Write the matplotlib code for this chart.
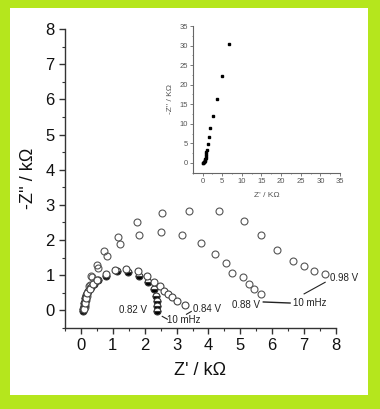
import numpy as np
import matplotlib
matplotlib.use("Agg")
import matplotlib.pyplot as plt
from matplotlib.patches import Rectangle
from matplotlib.ticker import MultipleLocator

plt.rcParams['font.family'] = ['Liberation Sans', 'DejaVu Sans']

# Nyquist data (kOhm)
x_082 = [0.07, 0.08, 0.09, 0.10, 0.12, 0.14, 0.17, 0.22, 0.30, 0.40, 0.55, 0.79,
         1.12, 1.49, 1.81, 2.10, 2.28, 2.36, 2.38, 2.38, 2.38]
y_082 = [-0.03, 0.05, 0.12, 0.20, 0.28, 0.36, 0.45, 0.55, 0.66, 0.75, 0.86, 0.99,
         1.11, 1.09, 0.98, 0.82, 0.62, 0.42, 0.26, 0.12, -0.03]

x_084 = [0.10, 0.12, 0.15, 0.20, 0.27, 0.37, 0.50, 0.78, 1.07, 1.42, 1.78, 2.07,
         2.29, 2.47, 2.60, 2.73, 2.87, 3.02, 3.25]
y_084 = [0.05, 0.20, 0.35, 0.50, 0.62, 0.74, 0.87, 1.04, 1.16, 1.18, 1.11, 0.97,
         0.82, 0.68, 0.54, 0.46, 0.37, 0.26, 0.14]

x_088 = [0.12, 0.15, 0.20, 0.27, 0.36, 0.52, 0.82, 1.24, 1.81, 2.51, 3.18, 3.75,
         4.22, 4.54, 4.75, 5.08, 5.26, 5.43, 5.64]
y_088 = [0.10, 0.30, 0.50, 0.72, 0.95, 1.20, 1.55, 1.89, 2.14, 2.24, 2.14, 1.91,
         1.60, 1.34, 1.06, 0.94, 0.76, 0.61, 0.47]

x_098 = [0.13, 0.18, 0.25, 0.33, 0.49, 0.73, 1.15, 1.75, 2.53, 3.39, 4.34, 5.10,
         5.66, 6.15, 6.65, 7.00, 7.31, 7.64]
y_098 = [0.15, 0.40, 0.68, 0.98, 1.30, 1.68, 2.10, 2.51, 2.78, 2.84, 2.82, 2.55,
         2.15, 1.72, 1.41, 1.25, 1.13, 1.04]

# inset data
x_ins = [0.10, 0.15, 0.25, 0.35, 0.45, 0.55, 0.65, 0.75, 0.80, 0.85, 0.90, 0.93,
         1.10, 1.35, 1.60, 1.95, 2.60, 3.65, 4.90, 6.80]
y_ins = [0.05, 0.10, 0.15, 0.20, 0.30, 0.45, 0.70, 1.00, 1.30, 1.70, 2.20, 2.70,
         3.40, 4.80, 6.60, 8.90, 12.0, 16.4, 22.3, 30.5]

green = '#b5e61d'
dark = '#222222'

fig = plt.figure(figsize=(3.8, 4.09), dpi=100, facecolor=green)
fig.patches.append(Rectangle((10/380, 14/409), 358/380, 387/409,
                             transform=fig.transFigure, facecolor='white',
                             edgecolor='none', zorder=-10))

ax = fig.add_axes([65/380, 1 - 328/409, 271/380, 299/409])
ax.patch.set_alpha(0)

ms = 5
ax.plot(x_082, y_082, 'o', ms=ms, mfc='black', mfcalt='white', fillstyle='bottom',
        mec='#333333', mew=0.8, linestyle='None', zorder=3)
ax.plot(x_084, y_084, 'o', ms=ms, mfc='white', mec='#444444', mew=0.8,
        linestyle='None', zorder=4)
ax.plot(x_088, y_088, 'o', ms=ms, mfc='none', mec='#555555', mew=0.8,
        linestyle='None', zorder=2)
ax.plot(x_098, y_098, 'o', ms=ms, mfc='none', mec='#555555', mew=0.8,
        linestyle='None', zorder=2)

# annotations
fs_ann = 7
ax.text(1.63, 0.02, '0.82 V', fontsize=fs_ann, ha='center', va='center', color=dark)
ax.text(3.96, 0.05, '0.84 V', fontsize=fs_ann, ha='center', va='center', color=dark)
ax.text(3.23, -0.28, '10 mHz', fontsize=fs_ann, ha='center', va='center', color=dark)
ax.plot([2.55, 2.71], [-0.17, -0.25], color=dark, lw=0.8, clip_on=False)
ax.plot([3.31, 3.46], [-0.11, -0.03], color=dark, lw=0.8, clip_on=False)
ax.text(5.18, 0.16, '0.88 V', fontsize=fs_ann, ha='center', va='center', color=dark)
ax.plot([5.72, 6.56], [0.24, 0.21], color=dark, lw=1.0)
ax.text(7.19, 0.21, '10 mHz', fontsize=fs_ann, ha='center', va='center', color=dark)
ax.plot([7.0, 7.66], [0.47, 0.80], color=dark, lw=0.8, clip_on=False)
ax.text(8.24, 0.92, '0.98 V', fontsize=fs_ann, ha='center', va='center', color=dark,
        clip_on=False)

ax.set_xlim(-0.5, 8)
ax.set_ylim(-0.5, 8)
ax.xaxis.set_major_locator(MultipleLocator(1))
ax.yaxis.set_major_locator(MultipleLocator(1))
ax.xaxis.set_minor_locator(MultipleLocator(0.5))
ax.yaxis.set_minor_locator(MultipleLocator(0.5))
for s in ['top', 'right']:
    ax.spines[s].set_visible(False)
for s in ['left', 'bottom']:
    ax.spines[s].set_color('#333333')
    ax.spines[s].set_linewidth(1.0)
ax.tick_params(which='major', direction='out', length=4, width=1.0,
               color='#333333', labelsize=12, labelcolor='#111111')
ax.tick_params(which='minor', direction='out', length=2, width=0.8, color='#333333')
ax.set_xlabel("Z' / k\u03a9", fontsize=13, color='#111111', labelpad=6)
ax.set_ylabel("-Z'' / k\u03a9", fontsize=13, color='#111111', labelpad=6)

# inset
axi = fig.add_axes([192.7/380, 1 - 172.7/409, 147.3/380, 146.7/409])
axi.patch.set_alpha(0)
axi.plot(x_ins, y_ins, 's', ms=1.7, color='black', linestyle='None')
axi.set_xlim(-2.5, 35)
axi.set_ylim(-2.5, 35)
axi.xaxis.set_major_locator(MultipleLocator(5))
axi.yaxis.set_major_locator(MultipleLocator(5))
axi.xaxis.set_minor_locator(MultipleLocator(2.5))
axi.yaxis.set_minor_locator(MultipleLocator(2.5))
for s in ['top', 'right']:
    axi.spines[s].set_visible(False)
for s in ['left', 'bottom']:
    axi.spines[s].set_color('#666666')
    axi.spines[s].set_linewidth(0.8)
axi.tick_params(which='major', direction='out', length=2, width=0.6,
                color='#666666', labelsize=5.5, labelcolor='#555555', pad=1.5)
axi.tick_params(which='minor', direction='out', length=1, width=0.5, color='#666666')
axi.set_xlabel("Z' / K\u03a9", fontsize=6, color='#555555', labelpad=5)
axi.set_ylabel("-Z'' / K\u03a9", fontsize=6, color='#555555', labelpad=4)

fig.savefig('out.png', dpi=100, facecolor=green)
